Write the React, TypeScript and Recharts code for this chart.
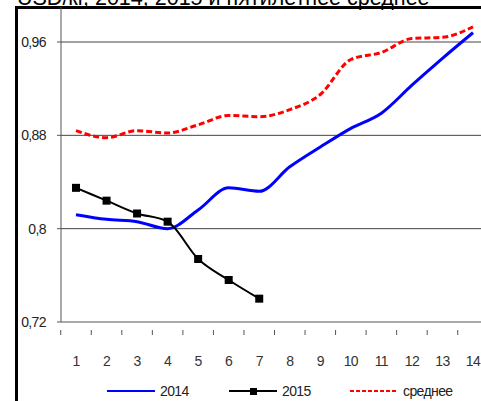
import { LineChart, Line, XAxis, YAxis, CartesianGrid, Legend } from "recharts";

const months = ["1", "2", "3", "4", "5", "6", "7", "8", "9", "10", "11", "12", "13", "14"];
const y2014 = [0.812, 0.808, 0.806, 0.8, 0.816, 0.835, 0.832, 0.853, 0.87, 0.886, 0.899, 0.923, 0.946, 0.968];
const y2015 = [0.835, 0.824, 0.813, 0.806, 0.774, 0.756, 0.74];
const avg = [0.884, 0.878, 0.884, 0.882, 0.889, 0.897, 0.896, 0.902, 0.915, 0.945, 0.951, 0.963, 0.964, 0.973];
const yTicks = [0.72, 0.8, 0.88, 0.96];

const data = months.map((m, i) => ({
  m,
  y2014: y2014[i],
  y2015: i < y2015.length ? y2015[i] : null,
  avg: avg[i],
}));

const FONT = "'Liberation Sans', Arial, sans-serif";

function XTick(props: any) {
  const { x, y, payload } = props;
  const half = 397 / 13 / 2;
  return (
    <g>
      <line x1={x - half} y1={y} x2={x - half} y2={y + 5} stroke="#555" />
      <text x={x} y={y + 36} textAnchor="middle" fontSize={14} letterSpacing={-0.6} fill="#333" fontFamily={FONT}>
        {payload.value}
      </text>
    </g>
  );
}

function Square(props: any) {
  const { cx, cy } = props;
  if (cx == null || cy == null) return null;
  return <rect x={cx - 4} y={cy - 4} width={8} height={8} fill="#000" />;
}

function LegendBox() {
  const items = [
    { left: 107, label: "2014", color: "#0000ff", dash: undefined, marker: false },
    { left: 229, label: "2015", color: "#000", dash: undefined, marker: true },
    { left: 350, label: "среднее", color: "#ff0000", dash: "4 2", marker: false },
  ];
  return (
    <div style={{ position: "relative", width: 481, height: 20 }}>
      {items.map((it) => (
        <div key={it.label} style={{ position: "absolute", left: it.left, top: 0, display: "flex", alignItems: "center" }}>
          <svg width={50} height={20}>
            <line x1={0} y1={10} x2={48} y2={10} stroke={it.color} strokeWidth={2} strokeDasharray={it.dash} />
            {it.marker && <rect x={21} y={7} width={7} height={7} fill="#000" />}
          </svg>
          <span style={{ fontFamily: FONT, fontSize: 14, letterSpacing: -0.6, color: "#222", marginLeft: 3 }}>{it.label}</span>
        </div>
      ))}
    </div>
  );
}

export default function App() {
  return (
    <div style={{ position: "fixed", left: 0, top: 0, width: 481, height: 401, overflow: "hidden", background: "#fff" }}>
      <svg width={481} height={20} style={{ position: "absolute", left: 0, top: 0 }}>
        <text x={17} y={4.5} fontSize={21.5} fontFamily={FONT} fill="#000">
          USD/кг, 2014, 2015 и пятилетнее среднее
        </text>
      </svg>
      <div style={{ position: "absolute", left: 15, top: 6, width: 600, height: 600, borderLeft: "3px solid #000", borderTop: "3px solid #000" }} />
      <div style={{ position: "absolute", left: 0, top: 0 }}>
        <LineChart width={500} height={401} data={data} margin={{ top: 7, right: 12, bottom: 0, left: 0 }}>
          <CartesianGrid vertical={false} stroke="#444" horizontalValues={[0.8, 0.88, 0.96]} />
          <XAxis dataKey="m" height={79} tickLine={false} stroke="#555" tick={<XTick />} interval={0} padding={{ left: 15, right: 15 }} />
          <YAxis
            width={61}
            domain={[0.72, 0.99]}
            ticks={yTicks}
            allowDataOverflow
            stroke="#555"
            tickSize={4}
            tickMargin={11}
            tick={{ fontSize: 14, letterSpacing: -0.6, fill: "#222", fontFamily: FONT }}
            tickFormatter={(v: number) => String(v).replace(".", ",")}
          />
          <Legend
            layout="horizontal"
            verticalAlign="middle"
            align="center"
            wrapperStyle={{ top: 381, left: 0, width: 481 }}
            content={() => <LegendBox />}
          />
          <Line type="monotone" dataKey="avg" stroke="#ff0000" strokeWidth={3} strokeDasharray="6 3" dot={false} isAnimationActive={false} />
          <Line type="monotone" dataKey="y2014" stroke="#0000ff" strokeWidth={3} dot={false} isAnimationActive={false} />
          <Line type="monotone" dataKey="y2015" stroke="#000" strokeWidth={2} dot={<Square />} connectNulls={false} isAnimationActive={false} />
        </LineChart>
      </div>
    </div>
  );
}
